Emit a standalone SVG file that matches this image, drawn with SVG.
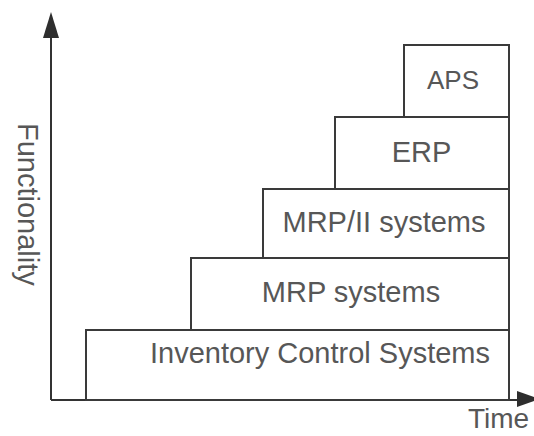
<svg xmlns="http://www.w3.org/2000/svg" width="534" height="436" viewBox="0 0 534 436">
  <style>
    .box { fill: #ffffff; stroke: #3a3a3a; stroke-width: 2; }
    .axis { stroke: #333333; stroke-width: 2; fill: none; }
    .head { fill: #2e2e2e; }
    .lbl { font-family: "Liberation Sans", Arial, sans-serif; font-size: 29px; fill: #575757; }
    .mid { text-anchor: middle; }
  </style>
  <rect width="534" height="436" fill="#ffffff"/>

  <!-- axes -->
  <g id="axes">
    <line class="axis" x1="51" y1="36" x2="51" y2="400"/>
    <polygon class="head" points="51,12 43,38 59,38"/>
    <line class="axis" x1="51" y1="400" x2="520" y2="400"/>
    <polygon class="head" points="517,391 540,399 517,407"/>
    <text class="lbl" transform="translate(18,123) rotate(90)">Functionality</text>
    <text class="lbl" x="468" y="428" style="font-size:28px">Time</text>
  </g>

  <!-- stacked system generations -->
  <g id="inventory">
    <rect class="box" x="86" y="330" width="423" height="70"/>
    <text class="lbl mid" x="320" y="363">Inventory Control Systems</text>
  </g>
  <g id="mrp">
    <rect class="box" x="191" y="258" width="318" height="72"/>
    <text class="lbl mid" x="351" y="302">MRP systems</text>
  </g>
  <g id="mrp2">
    <rect class="box" x="263" y="189" width="246" height="69"/>
    <text class="lbl mid" x="384" y="232">MRP/II systems</text>
  </g>
  <g id="erp">
    <rect class="box" x="335" y="117" width="174" height="72"/>
    <text class="lbl mid" x="421.5" y="161.5">ERP</text>
  </g>
  <g id="aps">
    <rect class="box" x="404" y="45" width="105" height="72"/>
    <text class="lbl mid" x="453" y="88.5" style="font-size:26px">APS</text>
  </g>
</svg>
